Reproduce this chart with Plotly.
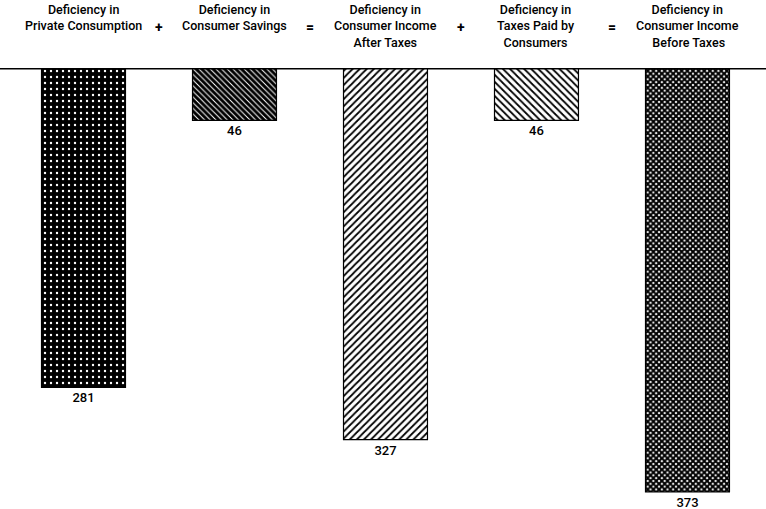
import plotly.graph_objects as go

# Data
categories = [
    "Deficiency in<br>Private Consumption",
    "Deficiency in<br>Consumer Savings",
    "Deficiency in<br>Consumer Income<br>After Taxes",
    "Deficiency in<br>Taxes Paid by<br>Consumers",
    "Deficiency in<br>Consumer Income<br> Before Taxes",
]
values = [281, 46, 327, 46, 373]
operators = ["+", "=", "+", "="]

FONT = "Roboto, Liberation Sans Narrow, sans-serif"

patterns = [
    dict(shape=".", bgcolor="black", fgcolor="white", size=6, solidity=0.12, fillmode="replace"),
    dict(shape="\\", bgcolor="black", fgcolor="white", size=4, solidity=0.25, fillmode="replace"),
    dict(shape="/", bgcolor="white", fgcolor="black", size=5, solidity=0.35, fillmode="replace"),
    dict(shape="\\", bgcolor="white", fgcolor="black", size=5, solidity=0.35, fillmode="replace"),
    dict(shape="x", bgcolor="white", fgcolor="black", size=4, solidity=0.75, fillmode="replace"),
]

xs = list(range(len(values)))
fig = go.Figure()
for i, v in enumerate(values):
    fig.add_trace(go.Bar(
        x=[xs[i]], y=[v], width=0.556,
        marker=dict(color="white", line=dict(color="black", width=1.2), pattern=patterns[i]),
        text=[str(v)], textposition="outside", cliponaxis=False,
        textfont=dict(family=FONT, size=13, color="black", weight=500),
        showlegend=False, hoverinfo="skip",
    ))

annotations = []
for i, c in enumerate(categories):
    annotations.append(dict(
        x=xs[i], y=1.155, xref="x", yref="paper", text=c, showarrow=False,
        yanchor="top", xanchor="center", align="center",
        font=dict(family=FONT, size=12.5, color="black", weight=500),
    ))
for i, op in enumerate(operators):
    annotations.append(dict(
        x=xs[i] + 0.5, y=1.155 - 0.04, xref="x", yref="paper", text="<b>" + op + "</b>",
        showarrow=False, yanchor="top", xanchor="center",
        font=dict(family=FONT, size=14, color="black"),
    ))

fig.update_layout(
    width=766, height=509,
    margin=dict(l=0, r=0, t=68, b=0),
    paper_bgcolor="white", plot_bgcolor="white",
    xaxis=dict(range=[-0.553, 4.52], visible=False),
    yaxis=dict(range=[388, 0], visible=False),
    annotations=annotations,
    shapes=[dict(type="line", xref="paper", yref="y", x0=0, x1=1, y0=0, y1=0,
                 line=dict(color="black", width=3))],
)

fig.write_html("out.html", config={"displayModeBar": False},
               post_script="document.body.style.margin='0';")
